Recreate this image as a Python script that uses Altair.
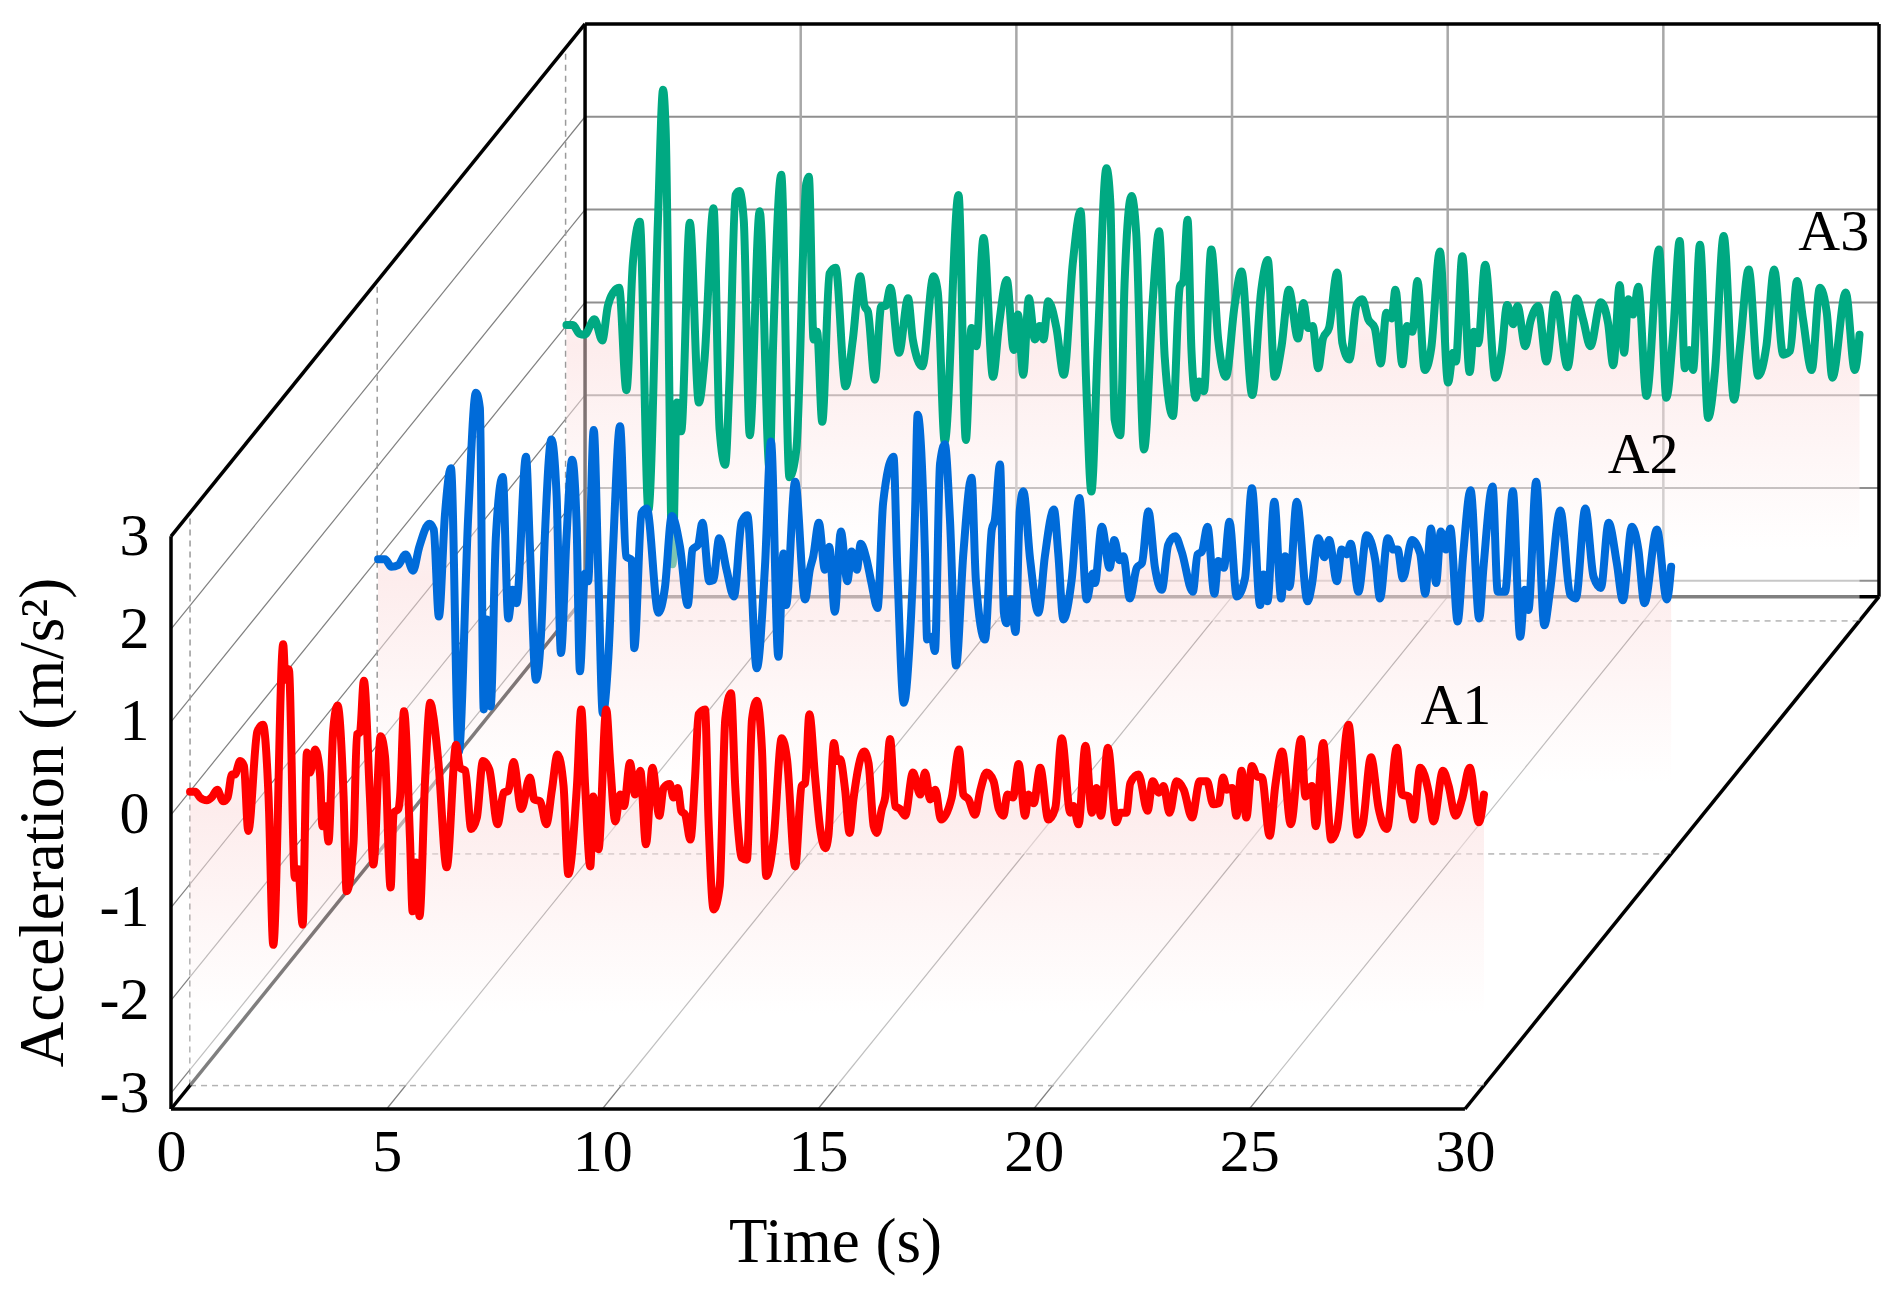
import altair as alt
import pandas as pd

# Readings from the picture: (time s, acceleration as read against the wall scale)
A1_T = [0,.12,.23,.39,.50,.63,.77,.87,.97,1.04,1.16,1.25,1.35,1.56,1.69,1.82,1.93,2.16,2.21,2.29,2.43,2.51,2.61,2.71,2.78,2.90,3.01,3.07,3.13,3.21,3.32,3.42,3.56,3.63,3.79,3.87,3.94,4.03,4.17,4.25,4.42,4.52,4.65,4.72,4.83,4.87,4.96,5.10,5.16,5.24,5.32,5.45,5.57,5.64,5.76,5.95,6.17,6.26,6.38,6.52,6.65,6.79,6.94,7.13,7.27,7.38,7.50,7.68,7.88,7.98,8.12,8.26,8.39,8.52,8.66,8.77,8.97,9.07,9.16,9.28,9.35,9.47,9.65,9.74,9.86,9.97,
10.06,10.20,10.32,10.44,10.57,10.72,10.88,10.98,11.12,11.21,11.31,11.39,11.48,11.60,11.71,11.79,11.94,12.02,12.14,12.28,12.41,12.54,12.64,12.72,12.79,12.91,13.03,13.14,13.26,13.36,13.53,13.72,13.84,14.03,14.18,14.26,14.36,14.49,14.61,14.73,14.80,14.93,15.00,15.07,15.19,15.29,15.38,15.63,15.73,15.85,15.92,16.04,16.12,16.23,16.35,16.46,16.58,16.76,16.93,17.04,17.16,17.28,17.41,17.66,17.83,17.93,18.05,18.20,18.32,18.47,18.63,18.75,18.86,18.95,19.08,19.21,19.36,19.44,19.56,19.71,19.90,
20.06,20.21,20.41,20.48,20.60,20.76,20.91,21.01,21.12,21.28,21.47,21.57,21.71,21.80,21.99,22.20,22.32,22.46,22.57,22.71,22.87,23.04,23.23,23.41,23.58,23.72,23.85,23.95,24.04,24.16,24.26,24.38,24.49,24.62,24.74,24.85,25.03,25.16,25.32,25.52,25.76,25.86,26.01,26.10,26.27,26.46,26.59,26.86,27.07,27.19,27.38,27.56,27.75,27.98,28.10,28.25,28.37,28.52,28.72,28.83,29.05,29.18,29.34,29.49,29.67,29.88,30.0]
A1_A = [.07,.07,.01,-.02,.01,.09,-.03,.01,.25,.25,.39,.34,-.34,.70,.77,.02,-1.53,1.61,1.24,1.35,-.83,-.74,-1.32,.48,.27,.51,.27,-.29,-.08,-.45,.72,.97,.02,-.97,-.46,.67,.69,1.23,.02,-.69,.65,.44,-.93,-.15,-.11,.02,.91,-.43,-1.18,-.67,-1.23,.20,1.00,.86,.37,-.72,.56,.32,.29,-.32,-.20,.39,.30,-.27,.06,.08,.38,-.11,.22,-.01,-.03,-.27,.09,.46,.13,-.79,.13,.93,.13,-.71,.02,-.53,.93,.37,-.24,.04,
-.08,.37,.04,.29,-.48,.32,-.18,.11,.15,.01,.11,-.13,-.17,-.43,.23,.88,.93,-.22,-1.16,-.92,.83,1.10,.13,-.39,-.62,-.64,.83,1.02,.51,-.81,-.43,.63,.41,-.71,.13,.16,.88,.23,-.32,-.52,-.39,.58,.39,.41,.08,-.36,-.01,.49,.37,-.29,-.36,-.11,.02,.62,-.08,-.11,-.18,.27,.04,.27,-.01,.09,-.22,.01,.51,.04,-.01,-.17,.08,.27,.18,-.11,-.18,.04,.01,.36,-.18,.04,-.05,.32,-.22,
-.10,.63,-.15,-.08,-.27,.55,-.15,.11,-.18,.53,-.25,-.15,-.15,.16,.25,-.13,.18,.06,.13,-.15,.18,.09,-.20,.18,.18,-.06,-.05,.22,.09,.11,-.18,.29,-.20,.34,.23,.22,-.39,.13,.49,-.27,.62,.02,.13,-.29,.58,-.43,-.32,.77,-.38,-.27,.43,-.11,-.32,.53,.04,.02,-.22,.32,.06,-.24,.29,.13,-.18,-.01,.32,-.25,.04]

A2_T = [.02,.18,.33,.49,.66,.83,.97,1.21,1.31,1.43,1.57,1.71,1.89,2.11,2.29,2.38,2.47,2.54,2.63,2.75,2.91,3.04,3.14,3.23,3.45,3.54,3.68,3.81,3.89,4.04,4.16,4.26,4.39,4.52,4.62,4.70,4.82,4.89,5.02,5.13,5.23,5.36,5.47,5.63,5.77,5.90,5.96,6.13,6.25,6.52,6.67,6.83,7.02,7.20,7.31,7.44,7.54,7.70,7.79,7.93,8.10,8.27,8.45,8.58,8.80,8.99,9.13,9.30,9.42,9.48,9.69,9.92,10.03,
10.11,10.24,10.38,10.48,10.61,10.75,10.90,11.0,11.12,11.21,11.35,11.46,11.60,11.73,11.97,12.06,12.21,12.34,12.47,12.53,12.70,12.75,12.86,12.93,13.05,13.16,13.28,13.42,13.59,13.78,13.88,14.09,14.25,14.32,14.44,14.53,14.59,14.69,14.80,14.90,14.98,15.14,15.33,15.48,15.69,15.79,15.91,16.10,16.28,16.45,16.59,16.64,16.80,16.98,17.09,17.21,17.30,17.45,17.61,17.73,17.88,18.03,18.19,18.34,18.50,18.65,18.91,19.02,19.12,19.25,19.41,19.50,19.63,19.76,19.93,
20.12,20.28,20.47,20.55,20.64,20.80,20.96,21.05,21.15,21.32,21.57,21.67,21.82,21.96,22.07,22.25,22.36,22.48,22.57,22.75,22.94,23.14,23.25,23.43,23.56,23.66,23.78,23.99,24.18,24.30,24.43,24.55,24.66,24.78,24.88,25.05,25.18,25.35,25.55,25.65,25.86,25.98,26.15,26.33,26.50,26.61,26.69,26.87,27.06,27.19,27.43,27.66,27.79,28.01,28.20,28.37,28.55,28.74,28.88,29.09,29.24,29.38,29.67,29.90,30.0]
A2_A = [.08,.08,0,.02,.13,-.04,.20,.45,.39,-.52,.54,1.03,-1.94,.53,1.82,1.66,-1.49,-.55,-1.46,.30,.94,-.54,-.24,-.38,1.15,.21,-1.18,-.61,.35,1.33,.74,-.90,.32,1.12,.49,-1.09,-.07,-.15,1.43,-.14,-1.53,-.94,.21,1.47,.11,.07,-.85,.56,.61,-.48,-.22,.53,.21,-.40,.18,.23,.46,-.15,-.14,.30,-.03,-.31,.47,.54,-1.06,0,1.31,-.94,.14,-.40,.89,-.34,-.03,
.11,.46,-.03,.21,-.47,.37,-.15,.16,-.03,.24,.07,-.17,-.43,.67,1.15,-.03,-1.42,-.83,.56,1.59,.14,-.76,-.73,-.88,1.08,1.28,.49,-1.03,.14,.93,-.14,-.76,.39,.49,1.07,-.48,-.59,-.34,-.68,.60,.79,.07,-.48,.11,.60,.14,-.55,-.14,.72,-.34,-.07,-.17,.42,-.01,.28,.07,.11,-.33,-.01,.04,.58,0,-.24,.23,.32,.16,-.26,.13,.16,.42,-.28,.06,-.01,.47,-.31,
-.12,.82,-.40,-.08,-.36,.68,-.33,.11,-.21,.68,-.36,-.19,.30,.10,.28,-.15,.18,.13,.24,-.26,.33,.07,-.33,.30,.18,.18,-.12,.28,.14,-.28,.40,-.17,.37,.18,.40,-.57,.14,.80,-.54,0,.84,-.26,-.26,.79,-.73,-.24,-.45,.89,-.61,-.26,.59,-.29,-.33,.61,-.10,-.22,.46,.04,-.35,.42,.18,-.38,.39,-.34,0]

A3_T = [.02,.17,.32,.44,.67,.85,.98,1.10,1.24,1.41,1.56,1.72,1.92,2.14,2.26,2.32,2.48,2.58,2.68,2.88,3.09,3.22,3.43,3.57,3.70,3.80,3.94,4.03,4.13,4.27,4.50,4.73,4.81,5.0,5.19,5.35,5.58,5.64,5.75,5.83,5.95,6.12,6.26,6.49,6.66,6.83,6.93,7.01,7.17,7.32,7.42,7.53,7.73,7.94,8.05,8.27,8.53,8.63,8.79,9.11,9.28,9.41,9.52,9.69,9.91,10.05,
10.23,10.39,10.49,10.61,10.74,10.88,10.99,11.08,11.19,11.38,11.55,11.76,11.94,12.07,12.19,12.34,12.54,12.63,12.73,12.86,12.96,13.12,13.23,13.41,13.62,13.76,13.89,14.08,14.24,14.32,14.42,14.51,14.61,14.69,14.80,14.97,15.13,15.31,15.51,15.67,15.92,16.13,16.28,16.44,16.60,16.77,16.98,17.11,17.21,17.32,17.45,17.56,17.70,17.89,18.01,18.17,18.34,18.47,18.61,18.76,18.90,19.03,19.15,19.24,19.40,19.51,19.63,19.75,19.92,
20.07,20.27,20.46,20.58,20.64,20.79,20.96,21.06,21.16,21.32,21.56,21.70,21.83,21.97,22.07,22.25,22.37,22.55,22.74,22.95,23.23,23.44,23.59,23.76,24.0,24.17,24.29,24.44,24.54,24.64,24.75,24.87,25.06,25.35,25.52,25.68,25.83,25.95,26.05,26.14,26.30,26.49,26.65,26.85,27.09,27.23,27.43,27.65,27.84,28.02,28.23,28.39,28.55,28.69,28.89,29.08,29.24,29.37,29.68,29.89,30.0]
A3_A = [.09,.09,0,-.01,.15,-.07,.29,.43,.48,-.59,.74,1.17,-1.84,1.17,2.55,2.13,-2.41,-.72,-1.02,1.16,-.72,-.27,1.31,-1.0,-1.37,-.48,1.45,1.49,1.19,-1.06,1.28,-1.42,-.13,1.66,-1.5,-1.21,1.57,1.64,-.06,.02,-.92,.63,.69,-.55,-.06,.60,.29,.23,-.48,.29,.29,.48,-.20,.37,-.06,-.34,.60,.43,-1.13,1.45,-1.11,.06,-.13,1.0,-.45,.10,
.56,-.17,.20,-.43,.37,-.06,.08,-.06,.34,.06,-.43,.74,1.28,-.52,-1.65,-.10,1.73,1.37,-.90,-1.06,.53,1.44,1.05,-1.21,.39,1.07,-.24,-.86,.49,.55,1.19,-.17,-.67,-.50,-.60,.88,-.06,-.45,.29,.65,-.64,.46,.77,-.45,-.13,.46,-.05,.32,.06,.08,-.36,-.05,.06,.64,-.10,-.27,.30,.36,.15,.06,-.31,.22,.16,.46,-.32,.08,.02,.55,-.38,
-.15,.86,-.51,-.20,-.29,.81,-.40,.02,-.10,.72,-.46,-.20,.30,.10,.29,-.13,.13,.29,-.29,.41,-.35,.37,.15,-.13,.33,.11,-.33,.51,-.20,.36,.20,.49,-.65,.88,-.67,.01,.97,-.36,-.17,-.38,.93,-.88,-.38,1.02,-.69,-.13,.67,-.44,-.13,.67,-.22,-.18,.55,.15,-.38,.48,.22,-.46,.43,-.38,-.01]

SERIES = ["A1", "A2", "A3"]
DEPTH = {"A1": .046, "A2": .498, "A3": .953}
COLORS = {"A1": "#ff0000", "A2": "#006bd9", "A3": "#00a982"}
LABEL_POS = {"A1": (29.79, 1.16), "A2": (34.13, 3.86), "A3": (38.55, 6.27)}
TIME_TICKS = [0, 5, 10, 15, 20, 25, 30]
ACC_TICKS = [-3, -2, -1, 0, 1, 2, 3]
FLOOR = -3.17
TOP = 3
# oblique projection of the depth axis, in axis units
DEPTH_T = 9.6
DEPTH_A = 5.52
XDOM = [0, 39.6]
YDOM = [FLOOR, 8.53]
FONT = "Liberation Serif"

xs = alt.Scale(domain=XDOM, nice=False, zero=False)
ys = alt.Scale(domain=YDOM, nice=False, zero=False)
x_axis = alt.Axis(
    values=TIME_TICKS, domain=False, ticks=False, grid=False, labelPadding=14,
    labelFont=FONT, labelFontSize=60, labelColor="black", labelFlush=False, labelOverlap=False,
    title="Time (s)", titleFont=FONT, titleFontSize=63, titleFontWeight="normal", titleColor="black",
    titleX=664, titleY=133, titleAlign="center", titleBaseline="middle")
y_axis = alt.Axis(
    values=ACC_TICKS, domain=False, ticks=False, grid=False, labelPadding=22,
    labelFont=FONT, labelFontSize=60, labelColor="black", labelOverlap=False,
    labelExpr="'' + datum.value",
    title="Acceleration (m/s²)", titleFont=FONT, titleFontSize=63, titleFontWeight="normal", titleColor="black",
    titleX=-128, titleY=799, titleAngle=270, titleAlign="center", titleBaseline="middle")
X = alt.X("x:Q", scale=xs, axis=x_axis)
Y = alt.Y("y:Q", scale=ys, axis=y_axis)


def seg(t1, a1, d1, t2, a2, d2):
    return dict(x=t1 + d1 * DEPTH_T, y=a1 + d1 * DEPTH_A, x2=t2 + d2 * DEPTH_T, y2=a2 + d2 * DEPTH_A)


def rules(segs, color, width, dash=None):
    kw = dict(color=color, strokeWidth=width)
    if dash:
        kw["strokeDash"] = dash
    return alt.Chart(pd.DataFrame(segs)).mark_rule(**kw).encode(x=X, x2="x2:Q", y=Y, y2="y2:Q")


back_h = [seg(0, a, 1, 30, a, 1) for a in ACC_TICKS[:-1]]
back_v = [seg(t, FLOOR, 1, t, TOP, 1) for t in TIME_TICKS[1:-1]]
left = [seg(0, a, 0, 0, a, 1) for a in ACC_TICKS[:-1]]
floor = [seg(t, FLOOR, 0, t, FLOOR, 1) for t in TIME_TICKS[1:-1]]
dash_h = [seg(0, FLOOR, DEPTH[s], 30, FLOOR, DEPTH[s]) for s in SERIES]
dash_v = [seg(0, FLOOR, DEPTH[s], 0, TOP, DEPTH[s]) for s in SERIES]
outline = [
    seg(0, FLOOR, 0, 30, FLOOR, 0), seg(0, FLOOR, 0, 0, TOP, 0),
    seg(0, TOP, 0, 0, TOP, 1), seg(0, TOP, 1, 30, TOP, 1),
    seg(30, TOP, 1, 30, FLOOR, 1), seg(30, FLOOR, 0, 30, FLOOR, 1),
    seg(0, FLOOR, 1, 30, FLOOR, 1), seg(0, FLOOR, 1, 0, TOP, 1),
    seg(0, FLOOR, 0, 0, FLOOR, 1),
]

layers = [
    rules(back_h, "#8f8f8f", 2),
    rules(back_v, "#a8a8a8", 2.5),
    rules(left + floor, "#808080", 1.2),
    rules(dash_h + dash_v, "#9a9a9a", 1.5, [6, 5]),
    rules(outline, "black", 3.5),
]

for s, T, A in (("A3", A3_T, A3_A), ("A2", A2_T, A2_A), ("A1", A1_T, A1_A)):
    d = DEPTH[s]
    acc = [1.031 * v - .078 for v in A]  # calibration of the readings to the tick spacing
    df = pd.DataFrame({"t": T, "acc": acc})
    df["x"] = df["t"] + d * DEPTH_T
    df["y"] = df["acc"] + d * DEPTH_A
    df["base"] = FLOOR + d * DEPTH_A
    amax = max(acc)
    off = lambda a: (amax - a) / (amax - FLOOR)
    grad = alt.Gradient(gradient="linear", x1=0, x2=0, y1=0, y2=1, stops=[
        alt.GradientStop(color="#ffffff", offset=0),
        alt.GradientStop(color="#fff4f4", offset=off(1.0)),
        alt.GradientStop(color="#fbdada", offset=off(-.2)),
        alt.GradientStop(color="#ffffff", offset=off(-2.4)),
        alt.GradientStop(color="#ffffff", offset=1),
    ])
    area = alt.Chart(df).mark_area(color=grad, opacity=.5, interpolate="monotone").encode(x=X, y=Y, y2="base:Q")
    line = alt.Chart(df).mark_line(color=COLORS[s], strokeWidth=8, interpolate="monotone",
                                   strokeJoin="round", strokeCap="round").encode(x=X, y=Y)
    layers += [area, line]

labels = pd.DataFrame({"name": SERIES, "x": [LABEL_POS[s][0] for s in SERIES], "y": [LABEL_POS[s][1] for s in SERIES]})
layers.append(alt.Chart(labels).mark_text(font=FONT, fontSize=58, color="black", align="center", baseline="middle").encode(
    x=X, y=Y, text="name:N"))

chart = alt.layer(*layers).properties(
    width=1708, height=1086, background="white",
    padding={"left": 163, "top": 15, "right": 8, "bottom": 173},
    autosize=alt.AutoSizeParams(type="none"),
).configure_view(stroke=None)

chart.save("out.html", embed_options={"renderer": "svg", "actions": False})
